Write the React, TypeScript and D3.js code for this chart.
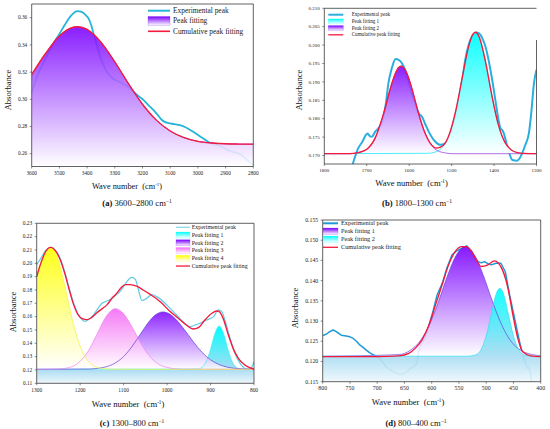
import React from 'react';
import * as d3 from 'd3';

type Pt = [number, number];

// ---------- Panel (a) 3600–2800 ----------
const expA: Pt[] = [
  [3600, 0.305], [3580, 0.317], [3558, 0.3265], [3540, 0.334], [3522, 0.341], [3500, 0.348],
  [3480, 0.355], [3460, 0.361], [3445, 0.364], [3435, 0.3649], [3420, 0.3643], [3405, 0.362],
  [3395, 0.3595], [3385, 0.3545], [3377, 0.3485], [3365, 0.34], [3353, 0.3314], [3340, 0.325],
  [3329, 0.3204], [3315, 0.317], [3305, 0.315], [3290, 0.3135], [3269, 0.3113], [3250, 0.309],
  [3233, 0.3057], [3215, 0.3025], [3197, 0.2996], [3180, 0.296], [3161, 0.2923], [3145, 0.2885],
  [3131, 0.285], [3118, 0.2832], [3107, 0.2825], [3085, 0.2818], [3065, 0.281], [3045, 0.2795],
  [3029, 0.2776], [3010, 0.2752], [2992, 0.2727], [2975, 0.2705], [2962, 0.2686], [2945, 0.267],
  [2926, 0.2661], [2910, 0.2648], [2896, 0.263], [2878, 0.2615], [2860, 0.2605], [2845, 0.2595],
  [2836, 0.258], [2820, 0.255], [2800, 0.2514],
];
const peakA: Pt[] = [
  [3600, 0.3182], [3550, 0.3337], [3500, 0.3466], [3450, 0.353], [3435, 0.3534], [3400, 0.3514],
  [3350, 0.342], [3300, 0.3275], [3250, 0.3113], [3200, 0.2964], [3150, 0.2847], [3100, 0.2767],
  [3050, 0.2718], [3000, 0.2691], [2950, 0.2679], [2900, 0.2673], [2850, 0.2671], [2800, 0.267],
];
const cumA: Pt[] = peakA;
const xTicksA = [3600, 3500, 3400, 3300, 3200, 3100, 3000, 2900, 2800];
const yTicksA = [0.26, 0.28, 0.30, 0.32, 0.34, 0.36];

// ---------- Panel (b) 1800–1300 ----------
const baseB = 0.1705;
const expB: Pt[] = [
  [1736, 0.1665], [1720, 0.172], [1710, 0.1738], [1702, 0.1756], [1698, 0.176], [1692, 0.1752],
  [1688, 0.1751], [1680, 0.1765], [1665, 0.1788], [1655, 0.184], [1649, 0.1896], [1641, 0.1937],
  [1632, 0.1962], [1625, 0.196], [1613, 0.1942], [1602, 0.1905], [1594, 0.187], [1586, 0.1842],
  [1578, 0.1815], [1570, 0.1806], [1562, 0.1785], [1554, 0.1765], [1539, 0.1738], [1527, 0.1729],
  [1515, 0.1733], [1507, 0.1745], [1499, 0.177], [1491, 0.1805], [1483, 0.1851], [1475, 0.1905],
  [1468, 0.196], [1460, 0.2], [1452, 0.2023], [1440, 0.2034], [1432, 0.2028], [1428, 0.2019],
  [1420, 0.1995], [1413, 0.196], [1405, 0.191], [1397, 0.1851], [1390, 0.18], [1385, 0.1774],
  [1380, 0.1768], [1377, 0.176], [1370, 0.173], [1365, 0.171], [1357, 0.1688], [1346, 0.1686],
  [1340, 0.1692], [1334, 0.1706], [1326, 0.173], [1318, 0.176], [1312, 0.182], [1306, 0.1896],
  [1300, 0.1933],
];
const peak1B: Pt[] = [
  [1800, 0.1705], [1556, 0.1706], [1540, 0.1709], [1524, 0.172], [1508, 0.175], [1492, 0.1812],
  [1476, 0.1905], [1460, 0.1996], [1444, 0.2035], [1428, 0.1996], [1412, 0.1905], [1396, 0.1812],
  [1380, 0.175], [1364, 0.172], [1348, 0.1709], [1332, 0.1706], [1300, 0.1705],
];
const peak2B: Pt[] = [
  [1800, 0.1705], [1739, 0.1705], [1724, 0.1707], [1709, 0.1711], [1694, 0.1723], [1679, 0.1751],
  [1664, 0.1799], [1649, 0.1862], [1634, 0.192], [1619, 0.1943], [1604, 0.192], [1589, 0.1862],
  [1574, 0.1799], [1559, 0.1751], [1544, 0.1723], [1529, 0.1711], [1514, 0.1707], [1499, 0.1705],
  [1300, 0.1705],
];
const cumB: Pt[] = [
  [1800, 0.1705], [1760, 0.1705], [1740, 0.1705], [1720, 0.1708], [1700, 0.1717], [1680, 0.1748],
  [1660, 0.1815], [1640, 0.1899], [1625, 0.1939], [1619, 0.1943], [1610, 0.1934], [1595, 0.1888],
  [1580, 0.1823], [1565, 0.1768], [1550, 0.1733], [1535, 0.172], [1520, 0.1727], [1505, 0.1759],
  [1490, 0.1823], [1475, 0.1911], [1460, 0.1996], [1450, 0.2029], [1444, 0.2035], [1435, 0.2022],
  [1420, 0.1954], [1405, 0.1862], [1390, 0.1784], [1375, 0.1737], [1360, 0.1716], [1345, 0.1708],
  [1330, 0.1706], [1300, 0.1705],
];
const xTicksB = [1800, 1700, 1600, 1500, 1400, 1300];
const yTicksB = [0.170, 0.175, 0.180, 0.185, 0.190, 0.195, 0.200, 0.205, 0.210];

// ---------- Panel (c) 1300–800 ----------
const baseC = 0.1205;
const expC: Pt[] = [
  [1300, 0.199], [1290, 0.204], [1280, 0.2095], [1267, 0.212], [1255, 0.209], [1245, 0.203],
  [1235, 0.193], [1225, 0.181], [1215, 0.17], [1205, 0.162], [1195, 0.1575], [1188, 0.1565],
  [1178, 0.1585], [1170, 0.161], [1161, 0.1652], [1150, 0.17], [1140, 0.1715], [1131, 0.1728],
  [1118, 0.176], [1108, 0.179], [1100, 0.1825], [1092, 0.1865], [1081, 0.1895], [1073, 0.188],
  [1065, 0.179], [1058, 0.172], [1047, 0.1737], [1035, 0.1765], [1024, 0.175], [1010, 0.1717],
  [993, 0.1662], [978, 0.1612], [963, 0.1562], [947, 0.1525], [936, 0.1537], [924, 0.155],
  [909, 0.1575], [893, 0.16], [882, 0.165], [874, 0.1637], [867, 0.1575], [855, 0.1437],
  [844, 0.1325], [832, 0.125], [817, 0.1207], [809, 0.1207], [800, 0.1262],
];
const peak1C: Pt[] = [
  [1300, 0.1205], [930, 0.1207], [920, 0.1219], [910, 0.1261], [900, 0.1354], [890, 0.1472],
  [880, 0.153], [870, 0.1472], [860, 0.1354], [850, 0.1261], [840, 0.1219], [830, 0.1207],
  [800, 0.1205],
];
const peak2C: Pt[] = [
  [1300, 0.1205], [1180, 0.1207], [1160, 0.1212], [1140, 0.1224], [1120, 0.1251], [1100, 0.1301],
  [1080, 0.1379], [1060, 0.1476], [1040, 0.1569], [1025, 0.1617], [1010, 0.1635], [995, 0.1621],
  [980, 0.1581], [960, 0.1502], [940, 0.1413], [920, 0.1334], [900, 0.1276], [880, 0.124],
  [860, 0.122], [840, 0.1211], [820, 0.1207], [800, 0.1205],
];
const peak3C: Pt[] = [
  [1300, 0.1205], [1260, 0.1206], [1240, 0.121], [1220, 0.1224], [1200, 0.1265], [1180, 0.1349],
  [1160, 0.1476], [1140, 0.1602], [1119, 0.166], [1100, 0.1621], [1080, 0.1518], [1060, 0.1398],
  [1040, 0.1302], [1020, 0.1245], [1000, 0.1219], [980, 0.1209], [960, 0.1206], [800, 0.1205],
];
const peak4C: Pt[] = [
  [1300, 0.1915], [1290, 0.2014], [1280, 0.2087], [1267, 0.212], [1255, 0.2068], [1245, 0.1963],
  [1235, 0.1824], [1225, 0.1675], [1215, 0.1537], [1205, 0.1423], [1195, 0.1338], [1185, 0.128],
  [1175, 0.1245], [1160, 0.1218], [1140, 0.1207], [1120, 0.1205], [800, 0.1205],
];
const cumC: Pt[] = [
  [1300, 0.19], [1290, 0.2005], [1280, 0.2085], [1268, 0.212], [1255, 0.2085], [1245, 0.202],
  [1235, 0.192], [1225, 0.18], [1215, 0.169], [1205, 0.1615], [1195, 0.1585], [1185, 0.1578],
  [1175, 0.159], [1162, 0.1628], [1150, 0.1658], [1138, 0.169], [1125, 0.1745], [1115, 0.1778],
  [1105, 0.182], [1096, 0.184], [1085, 0.184], [1070, 0.1828], [1055, 0.18], [1038, 0.1765],
  [1015, 0.171], [995, 0.1645], [975, 0.159], [955, 0.1535], [940, 0.1507], [928, 0.1517],
  [913, 0.1575], [897, 0.1625], [886, 0.1642], [880, 0.1637], [871, 0.1587], [859, 0.1462],
  [848, 0.1362], [836, 0.1287], [821, 0.1237], [810, 0.1217], [800, 0.1207],
];
const xTicksC = [1300, 1200, 1100, 1000, 900, 800];
const yTicksC = [0.11, 0.12, 0.13, 0.14, 0.15, 0.16, 0.17, 0.18, 0.19, 0.20, 0.21, 0.22, 0.23];

// ---------- Panel (d) 800–400 ----------
const baseD = 0.1213;
const expD: Pt[] = [
  [800, 0.1264], [793, 0.1268], [787, 0.1274], [781, 0.1278], [775, 0.1274], [766, 0.1265],
  [757, 0.1263], [750, 0.1261], [744, 0.1257], [738, 0.125], [732, 0.1241], [726, 0.1235],
  [720, 0.1228], [714, 0.1222], [708, 0.1217], [699, 0.1212], [693, 0.1203], [688, 0.1195],
  [684, 0.1187], [678, 0.1182], [672, 0.1176], [666, 0.1172], [660, 0.1168], [654, 0.1168],
  [649, 0.1172], [645, 0.1175], [639, 0.1183], [633, 0.1187], [627, 0.1195], [624, 0.1224],
  [618, 0.1245], [612, 0.1257], [605, 0.129], [598, 0.1322], [590, 0.1365], [581, 0.1392],
  [572, 0.1432], [563, 0.1463], [554, 0.1474], [545, 0.148], [536, 0.1486], [527, 0.1473],
  [521, 0.1455], [515, 0.1447], [509, 0.1444], [503, 0.1447], [497, 0.1442], [491, 0.1439],
  [482, 0.1443], [473, 0.1443], [465, 0.1422], [457, 0.1364], [448, 0.1307], [439, 0.125],
  [433, 0.1216], [429, 0.12], [425, 0.1183], [423, 0.1187], [419, 0.1175], [417, 0.115],
  [415, 0.113],
];
const peak1D: Pt[] = [
  [800, 0.1213], [660, 0.1217], [640, 0.1227], [620, 0.1253], [600, 0.1304], [585, 0.1358],
  [570, 0.1416], [555, 0.1463], [538, 0.1484], [520, 0.146], [505, 0.1412], [490, 0.1354],
  [475, 0.1301], [460, 0.1261], [445, 0.1236], [430, 0.1223], [415, 0.1217], [400, 0.1214],
];
const peak2D: Pt[] = [
  [800, 0.1213], [535, 0.1213], [520, 0.1216], [510, 0.1228], [500, 0.1263], [490, 0.1321],
  [482, 0.1366], [475, 0.1381], [468, 0.1366], [460, 0.1321], [450, 0.1263], [440, 0.1228],
  [430, 0.1216], [415, 0.1213], [400, 0.1213],
];
const cumD: Pt[] = [
  [800, 0.1212], [700, 0.1212], [660, 0.1214], [642, 0.122], [630, 0.1233], [618, 0.1253],
  [605, 0.129], [593, 0.134], [581, 0.1389], [569, 0.1439], [557, 0.1472], [545, 0.1484],
  [536, 0.1484], [527, 0.1472], [518, 0.1451], [509, 0.1435], [497, 0.1439], [485, 0.1449],
  [478, 0.1444], [470, 0.1426], [460, 0.1381], [451, 0.1315], [442, 0.1257], [433, 0.1224],
  [418, 0.1214], [400, 0.1212],
];
const xTicksD = [800, 750, 700, 650, 600, 550, 500, 450, 400];
const yTicksD = [0.115, 0.120, 0.125, 0.130, 0.135, 0.140, 0.145, 0.150, 0.155];

// ---------- styling ----------
const FONT = "'Liberation Serif', 'Times New Roman', serif";
const RED = '#f41a3c';
const PURPLE = '#7a00ff';
const CYAN = '#00ffff';
const MAGENTA = '#f46cf4';
const YELLOW = '#ffff00';

type Peak = { data: Pt[]; color: string; stroke: string; base: number; toBottom?: boolean; opacity?: number };
type LegendItem = { label: string; kind: 'line' | 'box'; color: string; width?: number };

type Cfg = {
  id: string;
  box: { l: number; r: number; t: number; b: number };
  xDomain: [number, number];
  yDomain: [number, number];
  xTicks: number[];
  yTicks: number[];
  yFmt: string;
  tickFs: number;
  exp: Pt[];
  expColor: string;
  expWidth: number;
  expSmooth: boolean;
  peaks: Peak[];
  cum: Pt[];
  legend: { x: number; y0: number; dy: number; sw: number; bh: number; fs: number; tx: number; items: LegendItem[] };
  xTitle: { x: number; y: number; fs: number };
  yTitle: { x: number; y: number; fs: number };
  caption: { x: number; y: number; tag: string; range: string };
  partialRight?: number;
};

const panels: Cfg[] = [
  {
    id: 'a',
    box: { l: 31.7, r: 253.3, t: 4, b: 166.5 },
    xDomain: [3600, 2800],
    yDomain: [0.2506, 0.3701],
    xTicks: xTicksA, yTicks: yTicksA, yFmt: '.2f', tickFs: 5.3,
    exp: expA, expColor: '#27b4dc', expWidth: 1.8, expSmooth: true,
    peaks: [{ data: peakA, color: PURPLE, stroke: PURPLE, base: 0.2506, opacity: 0.88 }],
    cum: cumA,
    legend: {
      x: 148, y0: 10.7, dy: 10.3, sw: 22, bh: 9, fs: 7.4, tx: 173,
      items: [
        { label: 'Experimental peak', kind: 'line', color: '#27b4dc', width: 2 },
        { label: 'Peak fitting', kind: 'box', color: PURPLE },
        { label: 'Cumulative peak fitting', kind: 'line', color: RED, width: 1.6 },
      ],
    },
    xTitle: { x: 127, y: 188.5, fs: 8.3 },
    yTitle: { x: 11, y: 90, fs: 8.5 },
    caption: { x: 137, y: 205.5, tag: '(a)', range: ' 3600–2800 cm' },
  },
  {
    id: 'b',
    box: { l: 324.3, r: 536.5, t: 8.3, b: 164 },
    xDomain: [1800, 1300],
    yDomain: [0.1677, 0.21],
    xTicks: xTicksB, yTicks: yTicksB, yFmt: '.3f', tickFs: 5,
    exp: expB, expColor: '#2aaee0', expWidth: 2, expSmooth: true,
    peaks: [
      { data: peak1B, color: CYAN, stroke: '#00e8f8', base: baseB, opacity: 0.95 },
      { data: peak2B, color: PURPLE, stroke: '#8a30e0', base: baseB, opacity: 0.88 },
    ],
    cum: cumB,
    legend: {
      x: 328.3, y0: 14.7, dy: 6.7, sw: 15, bh: 5, fs: 5.1, tx: 351.7,
      items: [
        { label: 'Experimental peak', kind: 'line', color: '#2aaee0', width: 2 },
        { label: 'Peak fitting 1', kind: 'box', color: CYAN },
        { label: 'Peak fitting 2', kind: 'box', color: PURPLE },
        { label: 'Cumulative peak fitting', kind: 'line', color: RED, width: 1.3 },
      ],
    },
    xTitle: { x: 411.5, y: 185.5, fs: 8.6 },
    yTitle: { x: 302, y: 90, fs: 8.5 },
    caption: { x: 417, y: 206, tag: '(b)', range: ' 1800–1300 cm' },
    partialRight: 40,
  },
  {
    id: 'c',
    box: { l: 36.7, r: 254, t: 223.3, b: 383.3 },
    xDomain: [1300, 800],
    yDomain: [0.11, 0.23],
    xTicks: xTicksC, yTicks: yTicksC, yFmt: '.2f', tickFs: 5.4,
    exp: expC, expColor: '#5fcbe6', expWidth: 1.2, expSmooth: true,
    peaks: [
      { data: peak1C, color: CYAN, stroke: '#40e8f0', base: baseC, toBottom: true, opacity: 1 },
      { data: peak2C, color: PURPLE, stroke: '#6040d0', base: baseC, opacity: 0.85 },
      { data: peak3C, color: MAGENTA, stroke: '#f080f0', base: baseC, opacity: 0.9 },
      { data: peak4C, color: YELLOW, stroke: '#f0f040', base: baseC, opacity: 0.9 },
    ],
    cum: cumC,
    legend: {
      x: 176, y0: 227.3, dy: 7.75, sw: 14, bh: 6, fs: 5.9, tx: 191.7,
      items: [
        { label: 'Experimental peak', kind: 'line', color: '#7fd8ea', width: 1.2 },
        { label: 'Peak fitting 1', kind: 'box', color: CYAN },
        { label: 'Peak fitting 2', kind: 'box', color: PURPLE },
        { label: 'Peak fitting 3', kind: 'box', color: MAGENTA },
        { label: 'Peak fitting 4', kind: 'box', color: YELLOW },
        { label: 'Cumulative peak fitting', kind: 'line', color: RED, width: 1.3 },
      ],
    },
    xTitle: { x: 128, y: 406.5, fs: 8.6 },
    yTitle: { x: 15.5, y: 312, fs: 8.5 },
    caption: { x: 132, y: 425.5, tag: '(c)', range: ' 1300–800 cm' },
  },
  {
    id: 'd',
    box: { l: 322.7, r: 540.7, t: 220, b: 381.7 },
    xDomain: [800, 400],
    yDomain: [0.115, 0.155],
    xTicks: xTicksD, yTicks: yTicksD, yFmt: '.3f', tickFs: 5.8,
    exp: expD, expColor: '#1e9ad6', expWidth: 1.5, expSmooth: false,
    peaks: [
      { data: peak1D, color: PURPLE, stroke: '#7040d8', base: baseD, opacity: 0.9 },
      { data: peak2D, color: CYAN, stroke: '#30e0f0', base: baseD, toBottom: true, opacity: 0.92 },
    ],
    cum: cumD,
    legend: {
      x: 323, y0: 223.3, dy: 8, sw: 15, bh: 6.5, fs: 6.3, tx: 341,
      items: [
        { label: 'Experimental peak', kind: 'line', color: '#1e9ad6', width: 2 },
        { label: 'Peak fitting 1', kind: 'box', color: PURPLE },
        { label: 'Peak fitting 2', kind: 'box', color: CYAN },
        { label: 'Cumulative peak fitting', kind: 'line', color: RED, width: 1.3 },
      ],
    },
    xTitle: { x: 408, y: 404.5, fs: 8.6 },
    yTitle: { x: 297.5, y: 308, fs: 8.5 },
    caption: { x: 416, y: 425.5, tag: '(d)', range: ' 800–400 cm' },
  },
];

function Panel({ cfg }: { cfg: Cfg }) {
  const { box } = cfg;
  const x = d3.scaleLinear().domain(cfg.xDomain).range([box.l, box.r]);
  const y = d3.scaleLinear().domain(cfg.yDomain).range([box.b, box.t]);
  const smooth = d3.line<Pt>().x((d) => x(d[0])).y((d) => y(d[1])).curve(d3.curveMonotoneX);
  const straight = d3.line<Pt>().x((d) => x(d[0])).y((d) => y(d[1])).curve(d3.curveLinear);
  const fmt = d3.format(cfg.yFmt);
  const clipId = `clip-${cfg.id}`;
  const axisColor = '#3a3a3a';

  return (
    <g>
      <defs>
        <clipPath id={clipId}>
          <rect x={box.l} y={box.t} width={box.r - box.l} height={box.b - box.t} />
        </clipPath>
        {cfg.peaks.map((p, i) => {
          const top = y(d3.max(p.data, (d) => d[1]) as number);
          const baseY = p.toBottom ? box.b : y(p.base);
          const baseFrac = (y(p.base) - top) / (baseY - top);
          return (
            <linearGradient key={i} id={`g-${cfg.id}-${i}`} gradientUnits="userSpaceOnUse" x1={0} x2={0} y1={top} y2={baseY}>
              <stop offset={0} stopColor={p.color} />
              {p.toBottom ? (
                <>
                  <stop offset={baseFrac} stopColor="#a9dcf2" />
                  <stop offset={1} stopColor="#eef7fc" />
                </>
              ) : (
                <stop offset={1} stopColor="#ffffff" />
              )}
            </linearGradient>
          );
        })}
        {cfg.legend.items.map((it, i) =>
          it.kind === 'box' ? (
            <linearGradient key={`l${i}`} id={`lg-${cfg.id}-${i}`} x1={0} x2={0} y1={0} y2={1}>
              <stop offset={0} stopColor={it.color} />
              <stop offset={1} stopColor="#ffffff" />
            </linearGradient>
          ) : null
        )}
      </defs>

      <g clipPath={`url(#${clipId})`}>
        {/* experimental */}
        <path
          d={(cfg.expSmooth ? smooth : straight)(cfg.exp) as string}
          fill="none"
          stroke={cfg.expColor}
          strokeWidth={cfg.expWidth}
          strokeLinejoin="round"
        />
        {/* peak fills */}
        {cfg.peaks.map((p, i) => {
          const baseY = p.toBottom ? box.b : y(p.base);
          const area = d3
            .area<Pt>()
            .x((d) => x(d[0]))
            .y0(baseY)
            .y1((d) => y(d[1]))
            .curve(d3.curveMonotoneX);
          return <path key={`f${i}`} d={area(p.data) as string} fill={`url(#g-${cfg.id}-${i})`} opacity={p.opacity ?? 0.9} />;
        })}
        {cfg.peaks.map((p, i) => (
          <path key={`s${i}`} d={smooth(p.data) as string} fill="none" stroke={p.stroke} strokeWidth={0.7} />
        ))}
        {/* cumulative */}
        <path d={smooth(cfg.cum) as string} fill="none" stroke={RED} strokeWidth={1.35} />
      </g>

      {/* frame */}
      <line x1={box.l} x2={box.l} y1={box.t} y2={box.b} stroke={axisColor} strokeWidth={0.8} />
      <line x1={box.l} x2={box.r} y1={box.b} y2={box.b} stroke={axisColor} strokeWidth={0.8} />
      <line x1={box.l} x2={box.r} y1={box.t} y2={box.t} stroke={axisColor} strokeWidth={0.8} />
      <line
        x1={box.r}
        x2={box.r}
        y1={cfg.partialRight ?? box.t}
        y2={box.b}
        stroke={axisColor}
        strokeWidth={0.8}
      />

      {/* y ticks */}
      {cfg.yTicks.map((t) => (
        <g key={`y${t}`}>
          <line x1={box.l - 2} x2={box.l} y1={y(t)} y2={y(t)} stroke={axisColor} strokeWidth={0.6} />
          <text
            x={box.l - 4.5}
            y={y(t)}
            dy="0.33em"
            textAnchor="end"
            fontSize={cfg.tickFs}
            fontFamily={FONT}
            fill="#222"
          >
            {fmt(t)}
          </text>
        </g>
      ))}
      {/* x ticks */}
      {cfg.xTicks.map((t) => (
        <g key={`x${t}`}>
          <line x1={x(t)} x2={x(t)} y1={box.b} y2={box.b + 2} stroke={axisColor} strokeWidth={0.6} />
          <text x={x(t)} y={box.b + 8.3} textAnchor="middle" fontSize={cfg.tickFs} fontFamily={FONT} fill="#222">
            {t}
          </text>
        </g>
      ))}

      {/* axis titles */}
      <text x={cfg.xTitle.x} y={cfg.xTitle.y} textAnchor="middle" fontSize={cfg.xTitle.fs} fontFamily={FONT} fill="#111">
        Wave number{'\u00a0\u00a0'}(cm
        <tspan dy={-3} fontSize={cfg.xTitle.fs * 0.6}>-1</tspan>
        <tspan dy={3}>)</tspan>
      </text>
      <text
        transform={`translate(${cfg.yTitle.x},${cfg.yTitle.y}) rotate(-90)`}
        textAnchor="middle"
        fontSize={cfg.yTitle.fs}
        fontFamily={FONT}
        fill="#111"
      >
        Absorbance
      </text>

      {/* legend */}
      {cfg.legend.items.map((it, i) => {
        const L = cfg.legend;
        const cy = L.y0 + i * L.dy;
        return (
          <g key={`lg${i}`}>
            {it.kind === 'line' ? (
              <line x1={L.x} x2={L.x + L.sw} y1={cy} y2={cy} stroke={it.color} strokeWidth={it.width ?? 1.3} />
            ) : (
              <rect
                x={L.x}
                y={cy - L.bh / 2}
                width={L.sw}
                height={L.bh}
                fill={`url(#lg-${cfg.id}-${i})`}
                stroke={it.color}
                strokeOpacity={0.5}
                strokeWidth={0.4}
              />
            )}
            <text x={L.tx} y={cy} dy="0.33em" fontSize={L.fs} fontFamily={FONT} fill="#222">
              {it.label}
            </text>
          </g>
        );
      })}

      {/* caption */}
      <text x={cfg.caption.x} y={cfg.caption.y} textAnchor="middle" fontSize={8.6} fontFamily={FONT} fill="#111">
        <tspan fontWeight="bold">{cfg.caption.tag}</tspan>
        {cfg.caption.range}
        <tspan dy={-3} fontSize={5.5}>−1</tspan>
      </text>
    </g>
  );
}

export default function App() {
  return (
    <svg
      width={550}
      height={429}
      viewBox="0 0 550 429"
      style={{ position: 'absolute', left: 0, top: 0, background: '#fff' }}
    >
      <rect x={0} y={0} width={550} height={429} fill="#fff" />
      {panels.map((p) => (
        <Panel key={p.id} cfg={p} />
      ))}
    </svg>
  );
}
